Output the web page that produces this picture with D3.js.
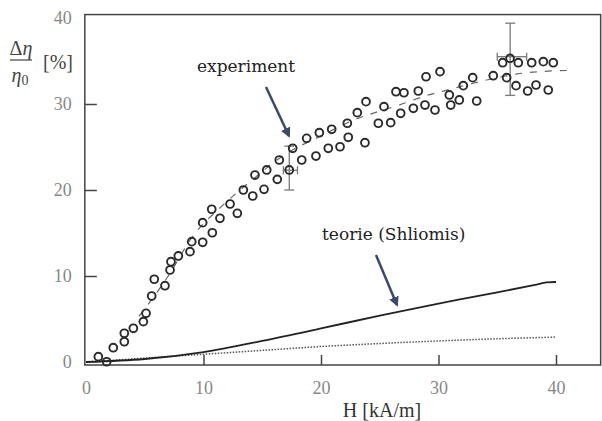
<!DOCTYPE html>
<html>
<head>
<meta charset="utf-8">
<script src="https://cdn.jsdelivr.net/npm/d3@7"></script>
<style>
  body { margin: 0; background: #fff; }
  svg { display: block; }
</style>
</head>
<body>
<svg id="chart" width="602" height="421"></svg>
<script>
// Experiment points (H in kA/m, relative viscosity change in %)
const expH = [1.05, 1.76, 2.32, 3.26, 3.26, 4.03, 4.88, 5.11, 5.59, 5.81, 6.72, 7.15, 7.23, 7.86, 8.85, 9.0,
  9.93, 9.93, 10.75, 10.7, 11.4, 12.26, 12.88, 13.39, 14.19, 14.38, 15.15, 15.38, 16.28, 16.45, 17.3,
  17.59, 18.36, 18.78, 19.57, 19.86, 20.62, 20.91, 21.62, 22.24, 22.32, 23.09, 23.74, 23.83, 24.88,
  25.36, 25.93, 26.38, 26.78, 27.06, 27.86, 28.28, 28.85, 28.94, 29.7, 30.13, 30.92, 31.04, 31.77,
  32.11, 32.91, 33.25, 34.66, 35.46, 35.8, 36.09, 36.6, 36.79, 37.59, 37.93, 38.3, 38.92, 39.34, 39.77];
const expVal = [0.62, 0.03, 1.66, 2.36, 3.34, 3.92, 4.69, 5.66, 7.67, 9.62, 8.87, 10.7, 11.66, 12.33, 12.83, 13.99,
  13.92, 16.2, 15.03, 17.76, 16.71, 18.37, 17.29, 20.0, 19.3, 21.74, 20.08, 22.33, 21.24, 23.49, 22.33,
  24.85, 23.49, 26.01, 23.95, 26.66, 24.85, 27.06, 25.03, 27.76, 26.13, 28.99, 25.5, 30.27, 27.76,
  29.69, 27.83, 31.43, 28.92, 31.31, 29.5, 31.51, 29.88, 33.17, 29.3, 33.76, 31.05, 29.88, 30.47,
  32.13, 33.06, 30.35, 33.29, 34.8, 33.06, 35.31, 32.13, 34.8, 31.51, 34.8, 32.21, 34.92, 31.63, 34.8];

// Dashed fit through the experiment
const fitH = [4.5, 5.4, 7, 9.3, 11.7, 14, 16.9, 20, 22.9, 24.6, 26.7, 29, 30.4, 33.5, 36.7, 39, 41];
const fitVal = [5.3, 6.9, 10, 15, 18.3, 21, 24.1, 26.3, 28.2, 29.0, 29.9, 31.0, 31.5, 32.6, 33.5, 33.8, 33.9];

// Theory (Shliomis), solid and dotted curves
const theoryH = [0, 5, 10, 15, 20, 25, 30, 35, 38, 39.2, 40];
const theoryVal = [0, 0.35, 1.15, 2.45, 3.9, 5.4, 6.8, 8.1, 8.9, 9.25, 9.3];
const dottedH = [0, 5, 10, 15, 20, 25, 30, 35, 40];
const dottedVal = [0, 0.45, 0.9, 1.35, 1.8, 2.15, 2.45, 2.7, 2.9];

// Error bars: centre, vertical and horizontal extent
const errH = [17.3, 36.1];
const errVal = [22.3, 35.5];
const errLow = [20.0, 31.0];
const errHigh = [25.1, 39.4];
const errLeft = [16.8, 35.0];
const errRight = [18.0, 37.5];

// Ticks
const xTicks = [0, 10, 20, 30, 40];
const yTicks = [0, 10, 20, 30, 40];

const svg = d3.select("#chart");

// Scales
const x = d3.scaleLinear().domain([0, 40]).range([86, 556]);
const y = d3.scaleLinear().domain([0, 40]).range([362, 18]);

// Frame
const frameL = x(-0.1), frameR = x(43.8), frameT = y(40.4), frameB = y(-0.35);
svg.append("rect")
    .attr("x", frameL)
    .attr("y", frameT)
    .attr("width", frameR - frameL)
    .attr("height", frameB - frameT)
    .attr("fill", "none")
    .attr("stroke", "#444")
    .attr("stroke-width", 1.5)

// X axis (ticks point inward)
const xAxis = svg.append("g")
    .attr("transform", "translate(0," + frameB + ")")
    .call(d3.axisBottom(x).tickValues(xTicks).tickSizeInner(-10).tickSizeOuter(0).tickPadding(16))
xAxis.select(".domain").remove()
xAxis.selectAll(".tick line")
    .attr("stroke", "#444")
    .attr("stroke-width", 1.5)
    .attr("display", d => d == 0 ? "none" : null)
xAxis.selectAll(".tick text")
    .attr("fill", "#888")
    .attr("font-family", "Liberation Serif")
    .attr("font-size", 18)

// Y axis
const yAxis = svg.append("g")
    .attr("transform", "translate(" + frameL + ",0)")
    .call(d3.axisLeft(y).tickValues(yTicks).tickSizeInner(-12).tickSizeOuter(0).tickPadding(13))
yAxis.select(".domain").remove()
yAxis.selectAll(".tick line")
    .attr("stroke", "#444")
    .attr("stroke-width", 1.5)
    .attr("display", d => (d == 0 || d == 40) ? "none" : null)
yAxis.selectAll(".tick text")
    .attr("fill", "#888")
    .attr("font-family", "Liberation Serif")
    .attr("font-size", 18)

// Axis titles
svg.append("text")
    .attr("x", 382)
    .attr("y", 417)
    .attr("text-anchor", "middle")
    .attr("font-family", "Liberation Serif")
    .attr("font-size", 20)
    .attr("fill", "#333")
    .text("H [kA/m]")

const yTitle = svg.append("g")
    .attr("font-family", "Liberation Serif")
    .attr("font-size", 20)
    .attr("fill", "#444")
const num = yTitle.append("text").attr("x", 21).attr("y", 55).attr("text-anchor", "middle")
num.append("tspan").text("Δ")
num.append("tspan").attr("font-style", "italic").text("η")
yTitle.append("line")
    .attr("x1", 10).attr("x2", 32)
    .attr("y1", 60).attr("y2", 60)
    .attr("stroke", "#444")
    .attr("stroke-width", 1.2)
const den = yTitle.append("text").attr("x", 20).attr("y", 82).attr("text-anchor", "middle")
den.append("tspan").attr("font-style", "italic").text("η")
den.append("tspan").attr("font-size", 14).attr("dy", 3).text("0")
yTitle.append("text").attr("x", 43).attr("y", 69).text("[%]")

// Curves
const line = d3.line().x(d => x(d[0])).y(d => y(d[1])).curve(d3.curveCatmullRom)

svg.append("path")
    .attr("d", line(dottedH.map((h, i) => [h, dottedVal[i]])))
    .attr("fill", "none")
    .attr("stroke", "#555")
    .attr("stroke-width", 1.5)
    .attr("stroke-dasharray", "1.5,1.5")

svg.append("path")
    .attr("d", line(theoryH.map((h, i) => [h, theoryVal[i]])))
    .attr("fill", "none")
    .attr("stroke", "#222")
    .attr("stroke-width", 1.8)

svg.append("path")
    .attr("d", line(fitH.map((h, i) => [h, fitVal[i]])))
    .attr("fill", "none")
    .attr("stroke", "#666")
    .attr("stroke-width", 1.2)
    .attr("stroke-dasharray", "7,8")

// Error bars
const errG = svg.append("g").attr("stroke", "#777").attr("stroke-width", 1.3)
errH.forEach((h, i) => {
    errG.append("line").attr("x1", x(h)).attr("x2", x(h)).attr("y1", y(errLow[i])).attr("y2", y(errHigh[i]))
    errG.append("line").attr("x1", x(h) - 5).attr("x2", x(h) + 5).attr("y1", y(errLow[i])).attr("y2", y(errLow[i]))
    errG.append("line").attr("x1", x(h) - 5).attr("x2", x(h) + 5).attr("y1", y(errHigh[i])).attr("y2", y(errHigh[i]))
    errG.append("line").attr("x1", x(errLeft[i])).attr("x2", x(errRight[i])).attr("y1", y(errVal[i])).attr("y2", y(errVal[i]))
    errG.append("line").attr("x1", x(errLeft[i])).attr("x2", x(errLeft[i])).attr("y1", y(errVal[i]) - 4).attr("y2", y(errVal[i]) + 4)
    errG.append("line").attr("x1", x(errRight[i])).attr("x2", x(errRight[i])).attr("y1", y(errVal[i]) - 4).attr("y2", y(errVal[i]) + 4)
})

// Experiment circles
svg.append("g")
    .selectAll("circle")
    .data(expH.map((h, i) => [h, expVal[i]]))
    .join("circle")
    .attr("cx", d => x(d[0]))
    .attr("cy", d => y(d[1]))
    .attr("r", 3.9)
    .attr("fill", "none")
    .attr("stroke", "#2a2a2a")
    .attr("stroke-width", 1.9)

// Annotations with arrows
svg.append("defs")
    .append("marker")
    .attr("id", "head")
    .attr("viewBox", "0 0 10 10")
    .attr("refX", 8)
    .attr("refY", 5)
    .attr("markerWidth", 4)
    .attr("markerHeight", 4)
    .attr("orient", "auto")
    .append("path")
    .attr("d", "M0,0 L10,5 L0,10 z")
    .attr("fill", "#3b4a66")

svg.append("text")
    .attr("x", 197)
    .attr("y", 72)
    .attr("font-family", "DejaVu Serif")
    .attr("font-size", 17)
    .attr("fill", "#222")
    .text("experiment")

svg.append("line")
    .attr("x1", 266).attr("y1", 87)
    .attr("x2", 289).attr("y2", 136)
    .attr("stroke", "#3b4a66")
    .attr("stroke-width", 2.5)
    .attr("marker-end", "url(#head)")

svg.append("text")
    .attr("x", 322)
    .attr("y", 240)
    .attr("font-family", "DejaVu Serif")
    .attr("font-size", 17)
    .attr("fill", "#222")
    .text("teorie (Shliomis)")

svg.append("line")
    .attr("x1", 376).attr("y1", 255)
    .attr("x2", 397).attr("y2", 305)
    .attr("stroke", "#3b4a66")
    .attr("stroke-width", 2.5)
    .attr("marker-end", "url(#head)")
</script>
</body>
</html>
